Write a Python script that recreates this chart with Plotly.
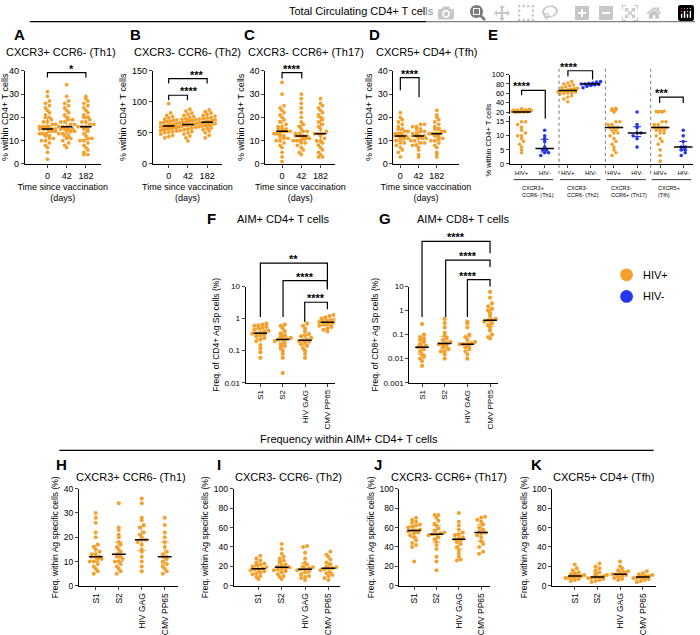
import plotly.graph_objects as go
import numpy as np

W, H = 700, 635
ORANGE = '#F4A02C'
BLUE = '#2536EE'
FONT = 'Liberation Sans'

# ---------------- data ----------------
days = ['0', '42', '182']
A_d0 = [2,5,7,8,9,10,10,11,11,12,12,13,13,13,14,14,14,15,15,15,15,15,16,16,16,16,17,17,18,18,19,20,20,21,22,23,24,25,26,27,29,31]
A_d42 = [7,8,9,10,11,11,12,12,13,13,14,14,14,15,15,15,15,16,16,16,17,17,18,18,19,19,20,21,22,23,24,25,26,27,29,34]
A_d182 = [4,4,5,6,7,8,9,10,10,11,11,12,13,14,15,15,16,16,16,17,17,18,18,19,20,20,21,22,23,24,25,26,27,28,29]
B_d0 = [42,44,46,48,50,51,52,53,54,55,56,57,58,58,59,60,60,61,61,62,62,63,63,64,65,66,67,68,69,70,71,72,74,76,78,82,97]
B_d42 = [37,42,45,48,50,52,54,55,56,58,59,60,61,62,62,63,63,64,65,66,67,68,69,70,71,72,73,75,76,78,80,82,85,88]
B_d182 = [42,46,50,53,55,57,58,60,61,62,63,64,65,66,66,67,68,68,69,70,71,72,73,74,75,77,78,80,82,84,87]
C_d0 = [1,3,5,7,8,9,10,10,11,11,12,12,13,13,13,14,14,14,14,15,15,15,16,16,17,18,19,20,21,22,23,24,25,30,35]
C_d42 = [4,5,6,7,8,9,9,10,10,10,11,11,11,12,12,12,12,13,13,14,14,15,16,17,18,20,22,24,26,28,30]
C_d182 = [3,3,4,5,6,7,8,9,10,10,11,12,13,13,13,14,15,16,17,18,19,20,21,22,23,24,25,26,28]
D_d0 = [3,5,6,7,8,9,9,10,10,11,11,11,12,12,12,12,13,13,13,13,14,14,15,15,16,17,18,19,20,22]
D_d42 = [3,4,6,7,8,8,9,9,10,10,11,11,11,12,12,12,12,13,13,14,14,15,15,16,16,17,17]
D_d182 = [3,4,5,7,8,9,10,10,11,11,12,12,13,13,13,13,14,14,15,15,16,17,18,19,20,21,23]

E_groups = ['HIV+', 'HIV-', 'HIV+', 'HIV-', 'HIV+', 'HIV-', 'HIV+', 'HIV-']
E_subsets = ['CXCR3+<br>CCR6- (Th1)', 'CXCR3-<br>CCR6- (Th2)', 'CXCR3-<br>CCR6+ (Th17)', 'CXCR5+<br>(Tfh)']
E_th1_pos = [4,5,6,7,8,9,10,10,11,12,13,14,15,15,19,20,20,20,21,21,21,22,22,23,23,24,24,25,25,26,27]
E_th1_neg = [3,4,4,5,5,6,8,9,10,12]
E_th2_pos = [42,48,52,55,58,60,61,62,63,64,65,66,66,67,68,69,70,71,72,74,76,78,80,82,85]
E_th2_neg = [72,75,77,78,79,80,80,81,82,84,85]
E_th17_pos = [3,4,5,6,7,8,9,10,11,11,12,12,13,13,13,14,14,15,15,20,22,24,25,27,28]
E_th17_neg = [6,9,10,11,11,13,14,20]
E_tfh_pos = [1,3,5,7,8,9,10,11,11,12,12,12,13,13,13,13,14,14,15,15,20,20,21,21,22]
E_tfh_neg = [3,4,5,5,6,6,8,10,12]

antigens = ['S1', 'S2', 'HIV GAG', 'CMV PP65']
F_S1 = [0.06,0.09,0.12,0.15,0.2,0.22,0.25,0.28,0.3,0.32,0.34,0.35,0.36,0.4,0.42,0.45,0.5,0.52,0.55,0.6,0.62,0.65,0.7]
F_S2 = [0.02,0.06,0.08,0.1,0.12,0.14,0.16,0.18,0.2,0.22,0.23,0.24,0.25,0.27,0.3,0.35,0.4,0.5,0.6,0.65]
F_GAG = [0.06,0.08,0.1,0.12,0.14,0.16,0.18,0.19,0.2,0.21,0.22,0.25,0.28,0.3,0.33,0.4,0.5,0.6,0.7]
F_CMV = [0.4,0.45,0.5,0.55,0.6,0.65,0.7,0.72,0.75,0.78,0.8,0.85,0.9,0.95,1.0,1.1,1.2,1.3]
G_S1 = [0.005,0.008,0.01,0.012,0.015,0.02,0.025,0.03,0.03,0.035,0.04,0.05,0.06,0.07,0.08,0.1,0.28]
G_S2 = [0.01,0.015,0.02,0.02,0.025,0.03,0.035,0.04,0.04,0.045,0.05,0.06,0.07,0.09,0.12,0.2,0.3,0.45]
G_GAG = [0.01,0.015,0.02,0.025,0.03,0.035,0.04,0.04,0.04,0.045,0.05,0.06,0.08,0.1,0.2,0.3,0.35]
G_CMV = [0.07,0.08,0.1,0.15,0.2,0.25,0.3,0.35,0.4,0.4,0.45,0.6,0.8,1.0,1.2,1.5,2.0,3.5,6.0]

H_S1 = [5,6,7,8,9,10,10,11,11,12,12,12,13,13,14,15,16,17,20,22,26,28,30]
H_S2 = [5,6,7,8,9,10,10,11,12,12,13,14,15,16,17,18,20,21,23,24,34]
H_GAG = [6,8,10,12,14,15,17,18,19,19,20,21,22,24,25,27,28,34,36]
H_CMV = [5,6,7,8,9,10,11,12,12,13,14,16,18,20,22,25,28]
I_S1 = [7,9,10,12,13,14,15,16,17,17,18,19,20,21,22,23,24,26,28,31]
I_S2 = [7,9,10,12,14,15,16,17,18,18,19,20,21,22,24,26,28,30,33,38,43]
I_GAG = [6,8,9,10,12,14,15,16,17,17,18,19,20,22,24,28,34,40,41]
I_CMV = [6,8,10,11,13,14,16,17,18,18,19,20,22,24,27,30,32,35]
J_S1 = [25,40,42,44,47,50,52,54,55,56,57,57,58,60,61,62,63,65,66,68,70]
J_S2 = [16,25,30,38,42,45,48,50,52,53,53,54,55,57,59,62,64,67,70,73,73]
J_GAG = [26,27,30,33,36,40,43,45,47,48,49,50,52,53,55,58,62,66,75]
J_CMV = [33,35,40,43,46,50,52,54,55,56,58,60,63,66,68,70,71]
K_S1 = [5,6,7,8,8,9,9,10,10,10,11,12,13,14,16,18,22]
K_S2 = [4,5,6,7,8,8,9,9,9,10,11,12,14,16,18,20,23]
K_GAG = [6,7,8,9,10,11,12,12,13,14,15,16,18,20,25]
K_CMV = [4,5,6,7,8,8,9,9,10,10,11,12,13,15]

# ---------------- helpers ----------------
fig = go.Figure()
layout = {}
shapes = []
annots = []


def px(x): return x / W


def py(y): return 1 - y / H


def cat_range(x0, x1, cats):
    s = (cats[-1] - cats[0]) / (len(cats) - 1)
    return [-(cats[0] - x0) / s, len(cats) - 1 + (x1 - cats[-1]) / s]


naxes = [0]


def new_axes(x0, x1, ytop, ybot, xr, yr, ytype='linear', xticks=None, xlabels=None,
             yticks=None, ylabels=None, tickfont=9, ytickfont=None, xtitle=None, ytitle=None,
             xangle=0, titlefont=9, showx=True):
    naxes[0] += 1
    n = naxes[0]
    s = '' if n == 1 else str(n)
    xa = dict(domain=[px(x0), px(x1)], range=xr, anchor='y' + s, showline=showx, linecolor='black',
              linewidth=1, ticks='outside' if showx else '', ticklen=3, showgrid=False, zeroline=False,
              tickfont=dict(size=tickfont, color='black'), tickangle=xangle, showticklabels=showx)
    if xticks is not None:
        xa.update(tickmode='array', tickvals=xticks, ticktext=xlabels)
    if xtitle:
        xa['title'] = dict(text=xtitle, font=dict(size=titlefont, color='black'), standoff=3)
    ya = dict(domain=[py(ybot), py(ytop)], range=yr, type=ytype, anchor='x' + s, showline=True,
              linecolor='black', linewidth=1, ticks='outside', ticklen=3, showgrid=False, zeroline=False,
              tickfont=dict(size=ytickfont or tickfont, color='black'))
    if yticks is not None:
        ya.update(tickmode='array', tickvals=yticks, ticktext=ylabels)
    if ytitle:
        ya['title'] = dict(text=ytitle, font=dict(size=titlefont, color='black'), standoff=3)
    layout['xaxis' + s] = xa
    layout['yaxis' + s] = ya
    return 'x' + s, 'y' + s


def swarm(vals, center, binw, step, maxw=0.42, logy=False):
    v = np.log10(vals) if logy else np.array(vals, float)
    order = np.argsort(v)
    xs = np.zeros(len(v))
    bins = {}
    for i in order:
        bins.setdefault(int(np.floor(v[i] / binw)), []).append(i)
    for b, idx in bins.items():
        n = len(idx)
        st = step if (n - 1) * step <= 2 * maxw else 2 * maxw / (n - 1)
        for k, i in enumerate(idx):
            xs[i] = center + (k - (n - 1) / 2) * st
    return xs


def group(xa, ya, center, vals, color, binw, step, logy=False, msize=3.8, mw=0.3,
          err=True, med=True, errcolor=None, maxw=0.42):
    xs = swarm(vals, center, binw, step, maxw, logy)
    fig.add_trace(go.Scatter(x=xs, y=vals, mode='markers', xaxis=xa, yaxis=ya,
                             marker=dict(color=color, size=msize), showlegend=False, hoverinfo='y'))
    m = float(np.median(vals))
    q1, q3 = np.percentile(vals, [25, 75])
    if err:
        fig.add_trace(go.Scatter(x=[center], y=[m], mode='markers', xaxis=xa, yaxis=ya,
                                 marker=dict(size=1, opacity=0), showlegend=False,
                                 error_y=dict(type='data', symmetric=False, array=[q3 - m],
                                              arrayminus=[m - q1], color=errcolor or color,
                                              thickness=1, width=4)))
    if med:
        fig.add_trace(go.Scatter(x=[center - mw, center + mw], y=[m, m], mode='lines', xaxis=xa,
                                 yaxis=ya, line=dict(color='black', width=1.5), showlegend=False,
                                 hoverinfo='skip'))


def bracket(x1, x2, top, yl, yr, text, fs=11):
    shapes.append(dict(type='path', xref='paper', yref='paper',
                       path=f'M {px(x1)},{py(yl)} L {px(x1)},{py(top)} L {px(x2)},{py(top)} L {px(x2)},{py(yr)}',
                       line=dict(color='black', width=1.2)))
    annots.append(dict(x=px((x1 + x2) / 2), y=py(top), xref='paper', yref='paper', text=f'<b>{text}</b>',
                       showarrow=False, yanchor='bottom', font=dict(size=fs, color='black'),
                       yshift=-4))


def text(x, y, t, size=11, bold=False, xanchor='center'):
    annots.append(dict(x=px(x), y=py(y), xref='paper', yref='paper', showarrow=False,
                       text=f'<b>{t}</b>' if bold else t, xanchor=xanchor, yanchor='middle',
                       font=dict(size=size, color='black')))


def hline(x0, x1, y, w=1.3):
    shapes.append(dict(type='line', xref='paper', yref='paper', x0=px(x0), x1=px(x1), y0=py(y),
                       y1=py(y), line=dict(color='black', width=w)))


# ---------------- top row A-D ----------------
top_panels = [
    ('A', 'CXCR3+ CCR6- (Th1)', 15, 92, [38, 56, 77], [A_d0, A_d42, A_d182], [0, 40], [0, 10, 20, 30, 40], 1.6, 2, 52),
    ('B', 'CXCR3- CCR6- (Th2)', 145, 215, [161, 180, 200], [B_d0, B_d42, B_d182], [0, 150], [0, 50, 100, 150], 6, 120, 180),
    ('C', 'CXCR3- CCR6+ (Th17)', 259, 330, [276, 296, 315], [C_d0, C_d42, C_d182], [0, 40], [0, 10, 20, 30, 40], 1.6, 235, 300),
    ('D', 'CXCR5+ CD4+ (Tfh)', 389, 455, [396, 415, 433], [D_d0, D_d42, D_d182], [0, 40], [0, 10, 20, 30, 40], 1.6, 362, 423),
]
for lab, title, x0, x1, cats, data, yr, yt, bw, lx, tx in top_panels:
    xa, ya = new_axes(x0, x1, 67, 162, cat_range(x0, x1, cats), yr, xticks=[0, 1, 2], xlabels=days,
                      yticks=yt, ylabels=[str(v) for v in yt], tickfont=9,
                      xtitle='Time since vaccination<br>(days)', ytitle='% within CD4+ T cells', titlefont=9)
    step = 4 / ((cats[-1] - cats[0]) / 2)
    for i, d in enumerate(data):
        group(xa, ya, i, d, ORANGE, bw, step, maxw=0.42)
    text(lx, 30, lab, 15, True, 'left')
    text(tx, 48, title, 11)

bracket(38, 77, 69, 74, 74, '*')
bracket(161, 200, 75, 80, 80, '***')
bracket(161, 180, 92, 97, 97, '****')
bracket(276, 296, 69, 75, 75, '****')
bracket(396, 415, 74, 87, 94, '****')

# ---------------- E ----------------
E_cats = [519, 543, 566, 591, 613, 637, 659, 683]
E_xr = cat_range(507, 693, E_cats)
xe, ye_low = new_axes(507, 693, 113.3, 162, E_xr, [0, 17], xticks=list(range(8)), xlabels=E_groups,
                      yticks=[0, 5, 10, 15], ylabels=['0', '5', '10', '15'], tickfont=6, ytickfont=7.5,
                      ytitle='% within CD4+ T cells', titlefont=7.5)
xe2, ye_up = new_axes(507, 693, 71, 111, E_xr, [16, 100], yticks=[20, 40, 60, 80, 100],
                      ylabels=['20', '40', '60', '80', '100'], tickfont=7.5, showx=False)
layout['xaxis' + xe2[1:]]['matches'] = xe
E_data = [E_th1_pos, E_th1_neg, E_th2_pos, E_th2_neg, E_th17_pos, E_th17_neg, E_tfh_pos, E_tfh_neg]
for i, d in enumerate(E_data):
    col = ORANGE if i % 2 == 0 else BLUE
    lo = [v for v in d if v <= 17]
    hi = [v for v in d if v > 17]
    m = float(np.median(d))
    if lo:
        xs = swarm(lo, i, 1.4, 0.17, 0.42)
        fig.add_trace(go.Scatter(x=xs, y=lo, mode='markers', xaxis=xe, yaxis=ye_low,
                                 marker=dict(color=col, size=3.6), showlegend=False))
    if hi:
        xs = swarm(hi, i, 8 if i in (2, 3) else 3, 0.17, 0.42)
        fig.add_trace(go.Scatter(x=xs, y=hi, mode='markers', xaxis=xe2, yaxis=ye_up,
                                 marker=dict(color=col, size=3.6), showlegend=False))
    q1, q3 = np.percentile(d, [25, 75])
    axy = ye_up if m > 17 else ye_low
    axx = xe2 if m > 17 else xe
    if i % 2 == 1:
        fig.add_trace(go.Scatter(x=[i], y=[m], mode='markers', xaxis=axx, yaxis=axy,
                                 marker=dict(size=1, opacity=0), showlegend=False,
                                 error_y=dict(type='data', symmetric=False, array=[q3 - m],
                                              arrayminus=[m - q1], color=BLUE, thickness=1, width=4)))
    fig.add_trace(go.Scatter(x=[i - 0.4, i + 0.4], y=[m, m], mode='lines', xaxis=axx, yaxis=axy,
                             line=dict(color='black', width=1.5), showlegend=False))
for sx in [557, 604, 650]:
    shapes.append(dict(type='line', xref='paper', yref='paper', x0=px(sx), x1=px(sx), y0=py(65),
                       y1=py(175), line=dict(color='#777777', width=1, dash='dot')))
for j, (lab, xl) in enumerate(zip(E_subsets, [517, 563, 608, 655])):
    shapes.append(dict(type='line', xref='paper', yref='paper', x0=px(E_cats[2 * j] - 8),
                       x1=px(E_cats[2 * j + 1] + 8), y0=py(178), y1=py(178),
                       line=dict(color='black', width=0.8)))
    annots.append(dict(x=px(xl), y=py(181), xref='paper', yref='paper', text=lab, showarrow=False,
                       xanchor='left', yanchor='top', align='left', font=dict(size=5.5, color='black')))
text(483, 30, 'E', 15, True, 'left')
bracket(519, 543, 87, 92, 116, '****')
bracket(566, 591, 67, 73, 76, '****')
bracket(659, 683, 94, 100, 100, '***')

# ---------------- F, G ----------------
ticks_log = [0.001, 0.01, 0.1, 1, 10]
tl_text = ['0.001', '0.01', '0.1', '1', '10']
F_cats = [254, 277, 299, 322]
xf, yf = new_axes(239, 330, 287, 385, cat_range(239, 330, F_cats), [-2, 1], ytype='log',
                  xticks=[0, 1, 2, 3], xlabels=antigens, yticks=ticks_log[1:], ylabels=tl_text[1:],
                  tickfont=8, xangle=-90, ytitle='Freq. of CD4+ Ag Sp cells (%)', titlefont=8.5)
for i, d in enumerate([F_S1, F_S2, F_GAG, F_CMV]):
    group(xf, yf, i, d, ORANGE, 0.12, 0.18, logy=True, msize=4.2)
G_cats = [418, 442, 464, 487]
xg, yg = new_axes(405, 495, 287, 385, cat_range(405, 495, G_cats), [-3, 1], ytype='log',
                  xticks=[0, 1, 2, 3], xlabels=antigens, yticks=ticks_log, ylabels=tl_text,
                  tickfont=8, xangle=-90, ytitle='Freq. of CD8+ Ag Sp cells (%)', titlefont=8.5)
for i, d in enumerate([G_S1, G_S2, G_GAG, G_CMV]):
    group(xg, yg, i, d, ORANGE, 0.16, 0.17, logy=True, msize=4.2)
text(198, 218, 'F', 15, True, 'left')
text(277, 218, 'AIM+ CD4+ T cells', 11)
text(372, 218, 'G', 15, True, 'left')
text(460, 218, 'AIM+ CD8+ T cells', 11)
bracket(254, 322, 263, 318, 288, '**')
bracket(277, 322, 281, 318, 290, '****')
bracket(299, 322, 303, 323, 310, '****')
bracket(418, 487, 241, 318, 253, '****')
bracket(442, 487, 260, 318, 267, '****')
bracket(464, 487, 280, 318, 287, '****')

# legend
for yy, col, lab in [(275, ORANGE, 'HIV+'), (297, BLUE, 'HIV-')]:
    shapes.append(dict(type='circle', xref='paper', yref='paper', x0=px(619), x1=px(632),
                       y0=py(yy + 6.5), y1=py(yy - 6.5), fillcolor=col, line=dict(width=0)))
    text(640, yy, lab, 11, False, 'left')

# ---------------- bottom row H-K ----------------
bottom = [
    ('H', 'CXCR3+ CCR6- (Th1)', 70, 170, [87, 111, 135, 157], [H_S1, H_S2, H_GAG, H_CMV], 40, 1.6, 45, 123),
    ('I', 'CXCR3- CCR6- (Th2)', 227, 335, [252, 276, 300, 323], [I_S1, I_S2, I_GAG, I_CMV], 100, 4, 208, 283),
    ('J', 'CXCR3- CCR6+ (Th17)', 395, 487, [410, 433, 457, 478], [J_S1, J_S2, J_GAG, J_CMV], 100, 4, 367, 445),
    ('K', 'CXCR5+ CD4+ (Tfh)', 550, 655, [573, 597, 620, 642], [K_S1, K_S2, K_GAG, K_CMV], 100, 4, 527, 602),
]
for lab, title, x0, x1, cats, data, ymax, bw, lx, tx in bottom:
    yt = list(range(0, ymax + 1, 10 if ymax == 40 else 20))
    xa, ya = new_axes(x0, x1, 493, 592, cat_range(x0, x1, cats), [0, ymax], xticks=[0, 1, 2, 3],
                      xlabels=antigens, yticks=yt, ylabels=[str(v) for v in yt], tickfont=8.5,
                      xangle=-90, ytitle='Freq. within Ag specific cells (%)', titlefont=8.5)
    step = 4 / ((cats[-1] - cats[0]) / 3)
    for i, d in enumerate(data):
        group(xa, ya, i, d, ORANGE, bw, step, msize=4)
    text(lx, 468, lab, 15, True, 'left')
    text(tx, 481, title, 11)

# titles and dividers
text(357, 6, 'Total Circulating CD4+ T cells', 11)
hline(20, 695, 17)
text(344, 442, 'Frequency within AIM+ CD4+ T cells', 11)
hline(50, 653, 454)

layout.update(width=W, height=H, margin=dict(l=0, r=0, t=0, b=0), autosize=False,
              plot_bgcolor='white', paper_bgcolor='white', showlegend=False,
              font=dict(family=FONT, color='black'), shapes=shapes, annotations=annots)
fig.update_layout(**layout)
fig.write_html('out.html', post_script="document.body.style.margin='0';document.body.style.overflow='hidden';")
